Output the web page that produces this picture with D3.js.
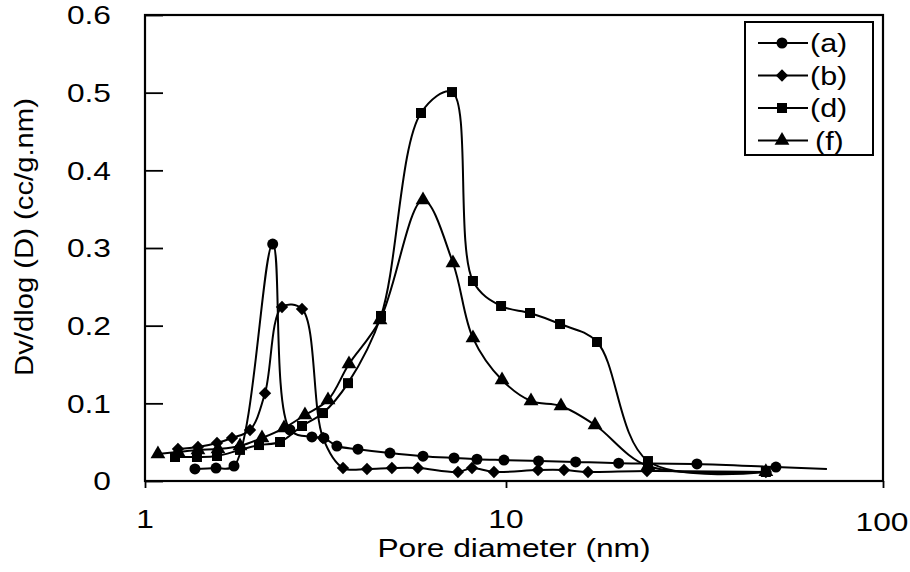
<!DOCTYPE html>
<html>
<head>
<meta charset="utf-8">
<script src="https://cdn.jsdelivr.net/npm/d3@7"></script>
<style>
	body { margin: 0; background: #fff; }
	svg { display: block; font-family: "Liberation Sans", Arial, sans-serif; }
</style>
</head>
<body>
<svg id="chart"></svg>
<script>
// pore diameter (nm) and Dv/dlog(D)
var seriesA_x = [1.375, 1.573, 1.764, 2.258, 2.52, 2.90, 3.13, 3.40, 3.89, 4.77, 5.89, 7.18, 8.31, 9.87, 12.2, 15.3, 19.9, 32.1, 52.0, 71.0];
var seriesA_y = [0.0155, 0.0167, 0.0193, 0.305, 0.066, 0.0567, 0.0554, 0.045, 0.041, 0.036, 0.032, 0.0296, 0.028, 0.027, 0.0258, 0.0245, 0.023, 0.022, 0.018, 0.0155];

var seriesB_x = [1.234, 1.402, 1.583, 1.742, 1.954, 2.150, 2.396, 2.722, 3.112, 3.536, 4.12, 4.83, 5.70, 7.36, 8.05, 9.26, 12.16, 14.25, 16.5, 23.66, 48.9];
var seriesB_y = [0.0412, 0.0438, 0.049, 0.0554, 0.0657, 0.113, 0.224, 0.2215, 0.0554, 0.0167, 0.0155, 0.0167, 0.0167, 0.0116, 0.0167, 0.0116, 0.0142, 0.0142, 0.0116, 0.0129, 0.0116];

var seriesD_x = [1.211, 1.393, 1.583, 1.833, 2.069, 2.366, 2.722, 3.112, 3.650, 4.506, 5.814, 7.087, 8.10, 9.69, 11.58, 13.91, 17.43, 23.8, 48.9];
var seriesD_y = [0.0309, 0.0309, 0.0322, 0.040, 0.0463, 0.0502, 0.0708, 0.0875, 0.126, 0.2125, 0.4738, 0.5008, 0.2575, 0.2253, 0.2163, 0.2021, 0.179, 0.0257, 0.0116];

var seriesF_x = [1.086, 1.234, 1.402, 1.593, 1.833, 2.109, 2.427, 2.774, 3.213, 3.673, 4.477, 5.89, 7.13, 8.10, 9.75, 11.65, 13.99, 17.22, 23.8, 48.9];
var seriesF_y = [0.0348, 0.0373, 0.0399, 0.0412, 0.0451, 0.0554, 0.0682, 0.085, 0.1043, 0.1506, 0.2073, 0.3618, 0.2807, 0.184, 0.130, 0.103, 0.0966, 0.0721, 0.0193, 0.012];

var seriesNames = ["(a)", "(b)", "(d)", "(f)"];
var xTicks = [1, 10, 100];
var yTicks = [0, 0.1, 0.2, 0.3, 0.4, 0.5, 0.6];

var chartWidth = 910, chartHeight = 572;
var plotLeft = 145, plotRight = 883, plotTop = 15, plotBottom = 481;
// the source picture is stretched sideways, so text gets the same stretch
var stretch = 1.22;

var svg = d3.select("#chart")
	.attr("width", chartWidth)
	.attr("height", chartHeight);

// the picture's decades are not quite equal, so split the log scale at 10
var x = d3.scaleLog().domain([1, 10, 100]).range([plotLeft, 506, plotRight]);
var y = d3.scaleLinear().domain([0, 0.6]).range([plotBottom, plotTop]);

// diamond = square turned by 45 degrees
var series = [
	{ name: seriesNames[0], xs: seriesA_x, ys: seriesA_y, symbol: d3.symbolCircle, size: 95, rotate: 0 },
	{ name: seriesNames[1], xs: seriesB_x, ys: seriesB_y, symbol: d3.symbolSquare, size: 76, rotate: 45 },
	{ name: seriesNames[2], xs: seriesD_x, ys: seriesD_y, symbol: d3.symbolSquare, size: 100, rotate: 0 },
	{ name: seriesNames[3], xs: seriesF_x, ys: seriesF_y, symbol: d3.symbolTriangle, size: 95, rotate: 0 }
];

function label(px, py, txt, size, anchor) {
	return svg.append("text")
		.attr("transform", "translate(" + px + "," + py + ") scale(" + stretch + ",1)")
		.attr("text-anchor", anchor || "middle")
		.attr("dy", "0.36em")
		.style("font-size", size + "px")
		.attr("fill", "#000")
		.text(txt);
}

// y axis, ticks pointing into the plot
var yAxis = d3.axisRight(y).tickValues(yTicks).tickSize(18).tickFormat("");
var gy = svg.append("g").attr("transform", "translate(" + plotLeft + ",0)").call(yAxis);
gy.select(".domain").remove();
gy.selectAll("line").attr("stroke", "#000").attr("stroke-width", 1.8);
yTicks.forEach(function(t) {
	label(111, y(t), t === 0 ? "0" : d3.format(".1f")(t), 26, "end");
});

var xAxis = d3.axisBottom(x).tickValues(xTicks).tickSize(7).tickFormat("");
var gx = svg.append("g").attr("transform", "translate(0," + plotBottom + ")").call(xAxis);
gx.select(".domain").remove();
gx.selectAll("line").attr("stroke", "#000").attr("stroke-width", 1.8);
xTicks.forEach(function(t) {
	label(x(t) + (t == 100 ? -1 : 0), t == 100 ? 522 : 519, d3.format("d")(t), 26);
});

// plot frame
svg.append("rect")
	.attr("x", plotLeft)
	.attr("y", plotTop)
	.attr("width", plotRight - plotLeft)
	.attr("height", plotBottom - plotTop)
	.attr("fill", "none")
	.attr("stroke", "#000")
	.attr("stroke-width", 2.2);

var line = d3.line()
	.x(function(d) { return x(d[0]); })
	.y(function(d) { return y(d[1]); })
	.curve(d3.curveCatmullRom.alpha(0.5));

series.forEach(function(s, k) {
	var points = s.xs.map(function(v, i) { return [v, s.ys[i]]; });
	svg.append("path")
		.datum(points)
		.attr("d", line)
		.attr("fill", "none")
		.attr("stroke", "#000")
		.attr("stroke-width", 2);
	// series (a) shows no marker on its last point
	var marked = k == 0 ? points.slice(0, -1) : points;
	svg.append("g").selectAll("path")
		.data(marked)
		.enter().append("path")
			.attr("transform", function(d) { return "translate(" + x(d[0]) + "," + y(d[1]) + ") rotate(" + s.rotate + ")"; })
			.attr("d", d3.symbol().type(s.symbol).size(s.size))
			.attr("fill", "#000");
});

// legend
var legend = svg.append("g");
legend.append("rect")
	.attr("x", 745)
	.attr("y", 22)
	.attr("width", 128)
	.attr("height", 133)
	.attr("fill", "#fff")
	.attr("stroke", "#000")
	.attr("stroke-width", 2);
series.forEach(function(s, i) {
	var ly = 43 + i * 32.5;
	legend.append("line")
		.attr("x1", 758).attr("x2", 808)
		.attr("y1", ly).attr("y2", ly)
		.attr("stroke", "#000")
		.attr("stroke-width", 2);
	legend.append("path")
		.attr("transform", "translate(782," + ly + ") rotate(" + s.rotate + ")")
		.attr("d", d3.symbol().type(s.symbol).size(s.size))
		.attr("fill", "#000");
	label(i == 3 ? 815 : 810, ly, s.name, 25, "start");
});

// axis titles
label(514, 548, "Pore diameter (nm)", 26);

svg.append("text")
	.attr("transform", "translate(24,237) rotate(-90)")
	.attr("text-anchor", "middle")
	.attr("dy", "0.36em")
	.attr("textLength", 278)
	.attr("lengthAdjust", "spacingAndGlyphs")
	.style("font-size", "25px")
	.text("Dv/dlog (D) (cc/g.nm)");
</script>
</body>
</html>
